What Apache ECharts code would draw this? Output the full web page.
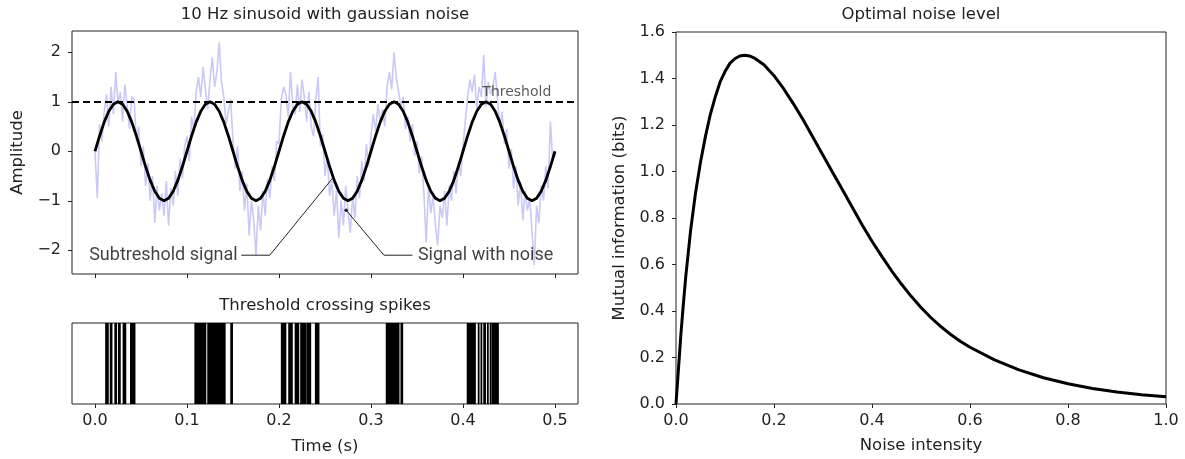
<!DOCTYPE html>
<html>
<head>
<meta charset="utf-8">
<script src="https://cdn.jsdelivr.net/npm/echarts@6/dist/echarts.min.js"></script>
<style>
  html, body { margin: 0; padding: 0; background: #fff; }
  #main { width: 1185px; height: 459px; }
</style>
</head>
<body>
<div id="main"></div>
<script>
// ---- data ----
// clean 10 Hz signal, sampled every 5 ms from 0 to 0.5 s
var sineStep = 0.005;
var sineValues = [
  0, 0.309, 0.588, 0.809, 0.951, 1, 0.951, 0.809, 0.588, 0.309,
  0, -0.309, -0.588, -0.809, -0.951, -1, -0.951, -0.809, -0.588, -0.309,
  0, 0.309, 0.588, 0.809, 0.951, 1, 0.951, 0.809, 0.588, 0.309,
  0, -0.309, -0.588, -0.809, -0.951, -1, -0.951, -0.809, -0.588, -0.309,
  0, 0.309, 0.588, 0.809, 0.951, 1, 0.951, 0.809, 0.588, 0.309,
  0, -0.309, -0.588, -0.809, -0.951, -1, -0.951, -0.809, -0.588, -0.309,
  0, 0.309, 0.588, 0.809, 0.951, 1, 0.951, 0.809, 0.588, 0.309,
  0, -0.309, -0.588, -0.809, -0.951, -1, -0.951, -0.809, -0.588, -0.309,
  0, 0.309, 0.588, 0.809, 0.951, 1, 0.951, 0.809, 0.588, 0.309,
  0, -0.309, -0.588, -0.809, -0.951, -1, -0.951, -0.809, -0.588, -0.309,
  0
];

// noisy signal, sampled every 2.5 ms
var noiseStep = 0.0025;
var noiseValues = [
  0.0, -0.95, 0.55, 0.2, 0.8, 1.15, 0.5, 1.3, 0.75, 1.6,
  0.95, 1.2, 0.6, 1.35, 0.9, 0.45, 1.1, 1.05, 0.2, 0.5,
  -0.3, 0.1, -0.7, -0.25, -1.0, -0.5, -1.45, -0.7, -1.2, -0.85,
  -1.3, -0.6, -1.5, -0.75, -1.1, -0.4, -0.9, -0.15, -0.55, 0.1,
  0.3, -0.2, 0.7, 0.4, 1.2, 1.5, 1.1, 1.7, 1.25, 0.85,
  1.45, 1.9, 1.3, 1.6, 2.2, 1.4, 1.1, 0.55, 0.8, 1.05,
  0.2, -0.35, 0.1, -0.8, -0.4, -1.2, -0.65, -1.7, -1.0, -1.4,
  -2.1, -1.1, -1.6, -0.8, -1.3, -0.55, -0.95, -0.3, -0.6, 0.2,
  0.15, 1.05, 1.3, 1.15, 0.7, 1.6, 0.9, 0.75, 1.35, 0.8,
  1.45, 1.1, 0.6, 1.2, 0.5, 0.3, 1.05, 1.5, 0.1, 0.35,
  -0.5, -0.1, -0.9, -0.6, -1.3, -0.8, -1.75, -1.0, -1.5, -0.7,
  -1.2, -1.65, -0.9, -1.35, -0.5, -0.95, -0.2, -0.6, 0.15, -0.3,
  0.3, 0.75, 0.4, 0.95, 0.6, 0.85, 0.5, 1.3, 1.6, 1.25,
  2.0, 1.5, 1.2, 0.9, 1.1, 0.45, 0.7, 0.2, 0.55, -0.1,
  0.2, -0.45, -0.1, -0.85, -1.85, -0.7, -1.25, -0.9, -1.5, -1.9,
  -1.1, -1.35, -0.8, -1.5, -0.7, -1.0, -0.4, -0.85, -0.2, -0.5,
  0.1, 0.6, 1.1, 1.45, 1.2, 1.55, 0.85, 1.3, 1.1, 1.95,
  0.9, 1.4, 1.15, 1.3, 1.6, 1.05, 0.5, 0.8, 0.15, 0.45,
  -0.35, 0.05, -0.75, -0.3, -1.1, -0.6, -1.4, -0.8, -1.2, -0.95,
  -1.6, -2.3, -1.1, -1.45, -0.7, -1.0, -0.3, -0.75, 0.6, -0.2,
  -0.05
];

var threshold = 1;

// spike times (ms) where the noisy signal crossed the threshold
var spikeMs = [
  12, 13, 14, 17, 18, 22, 23, 26, 27, 31, 32, 33, 39, 40, 41, 42, 43,
  109, 110, 111, 112, 113, 114, 115, 116, 117, 118, 119, 120,
  123, 124, 125, 126, 127, 128, 129, 130, 131, 132, 133, 134, 135, 136, 137, 138, 139, 140, 141,
  148, 149,
  203, 204, 205, 206, 207, 211, 212, 213, 214, 218, 219, 220, 221,
  224, 225, 226, 227, 228, 229, 231, 232, 233, 234, 240, 241, 242, 243,
  317, 318, 319, 320, 321, 322, 323, 324, 325, 326, 327, 328, 329, 330, 333, 334,
  405, 406, 407, 408, 409, 410, 411, 412, 413, 417, 420, 423, 424, 427, 430,
  432, 433, 434, 435, 436, 437, 438
];

// mutual information vs noise intensity
var noiseIntensity = [0, 0.005, 0.01, 0.015, 0.02, 0.03, 0.04, 0.05, 0.06, 0.07, 0.08, 0.09,
  0.1, 0.11, 0.12, 0.13, 0.14, 0.15, 0.16, 0.18, 0.2, 0.22, 0.24, 0.26, 0.28, 0.3, 0.32, 0.34,
  0.36, 0.38, 0.4, 0.42, 0.44, 0.46, 0.48, 0.5, 0.52, 0.54, 0.56, 0.58, 0.6, 0.65, 0.7, 0.75,
  0.8, 0.85, 0.9, 0.95, 1.0];
var mutualInfo = [0, 0.15, 0.30, 0.43, 0.55, 0.75, 0.91, 1.04, 1.15, 1.245, 1.32, 1.385,
  1.43, 1.465, 1.485, 1.497, 1.50, 1.497, 1.488, 1.458, 1.412, 1.355, 1.29, 1.22, 1.145, 1.07,
  0.995, 0.92, 0.845, 0.77, 0.70, 0.635, 0.573, 0.516, 0.463, 0.415, 0.372, 0.334, 0.30, 0.27,
  0.244, 0.19, 0.147, 0.113, 0.087, 0.067, 0.052, 0.04, 0.031];

var timeTicks = [0, 0.1, 0.2, 0.3, 0.4, 0.5];
var ampTicks = [-2, -1, 0, 1, 2];

// annotation anchors (time, amplitude)
var subAnno = [[0.159, -2.1], [0.19, -2.1], [0.258, -0.55]];
var noiseAnno = [[0.345, -2.1], [0.314, -2.1], [0.273, -1.19]];

// ---- chart ----
var chart = echarts.init(document.getElementById('main'), null, { renderer: 'canvas' });

var FONT = 'DejaVu Sans';
var TXT = '#222';
function minus(v) { return v < 0 ? '\u2212' + Math.abs(v) : String(v); }

var sineData = sineValues.map(function (v, i) { return [+(i * sineStep).toFixed(4), v]; });
var noiseData = noiseValues.map(function (v, i) { return [+(i * noiseStep).toFixed(4), v]; });
var spikeData = spikeMs.map(function (ms) { return [ms / 1000, 0, 1]; });
var miData = noiseIntensity.map(function (x, i) { return [x, mutualInfo[i]]; });

function baseAxis(extra, labelMargin) {
  var ax = {
    axisLine: { show: false, onZero: false },
    splitLine: { show: false },
    axisTick: { show: true, inside: false, length: 4, lineStyle: { color: '#222', width: 1 } },
    axisLabel: { color: TXT, fontFamily: FONT, fontSize: 16, margin: labelMargin },
    nameTextStyle: { color: TXT, fontFamily: FONT, fontSize: 16.5 }
  };
  for (var k in extra) {
    if (typeof extra[k] === 'object' && !Array.isArray(extra[k]) && ax[k]) {
      for (var j in extra[k]) ax[k][j] = extra[k][j];
    } else {
      ax[k] = extra[k];
    }
  }
  return ax;
}

var gridStyle = { show: true, borderColor: '#222', borderWidth: 1, backgroundColor: 'transparent' };

// one vertical tick per spike, placed through the axis scales
function renderSpike(params, api) {
  var bottom = api.coord([api.value(0), api.value(1)]);
  var top = api.coord([api.value(0), api.value(2)]);
  return {
    type: 'rect',
    shape: { x: bottom[0] - 0.9, y: top[1], width: 1.8, height: bottom[1] - top[1] },
    style: { fill: '#000' }
  };
}

var option = {
  animation: false,
  backgroundColor: '#fff',
  grid: [
    Object.assign({ left: 72, top: 31, width: 506, height: 243 }, gridStyle),
    Object.assign({ left: 72, top: 323, width: 506, height: 81 }, gridStyle),
    Object.assign({ left: 676, top: 32, width: 490, height: 372 }, gridStyle)
  ],
  xAxis: [
    baseAxis({ type: 'value', gridIndex: 0, min: -0.025, max: 0.525,
      axisTick: { customValues: timeTicks },
      axisLabel: { show: false } }, 9),
    baseAxis({ type: 'value', gridIndex: 1, min: -0.025, max: 0.525,
      axisTick: { customValues: timeTicks },
      axisLabel: { customValues: timeTicks, formatter: function (v) { return v.toFixed(1); } },
      name: 'Time (s)', nameLocation: 'middle', nameGap: 34 }, 9),
    baseAxis({ type: 'value', gridIndex: 2, min: 0, max: 1, interval: 0.2,
      axisLabel: { formatter: function (v) { return v.toFixed(1); } },
      name: 'Noise intensity', nameLocation: 'middle', nameGap: 33 }, 9)
  ],
  yAxis: [
    baseAxis({ type: 'value', gridIndex: 0, min: -2.48, max: 2.43,
      axisTick: { customValues: ampTicks },
      axisLabel: { customValues: ampTicks, formatter: minus },
      name: 'Amplitude', nameLocation: 'middle', nameGap: 46 }, 11),
    baseAxis({ type: 'value', gridIndex: 1, min: 0, max: 1,
      axisTick: { show: false }, axisLabel: { show: false } }, 11),
    baseAxis({ type: 'value', gridIndex: 2, min: 0, max: 1.6, interval: 0.2,
      axisLabel: { formatter: function (v) { return v.toFixed(1); } },
      name: 'Mutual information (bits)', nameLocation: 'middle', nameGap: 48 }, 11)
  ],
  graphic: [
    { type: 'text', x: 325, y: 15, style: { text: '10 Hz sinusoid with gaussian noise', fill: TXT,
      font: '16.5px "DejaVu Sans"', textAlign: 'center', textVerticalAlign: 'middle' } },
    { type: 'text', x: 325, y: 306, style: { text: 'Threshold crossing spikes', fill: TXT,
      font: '16.5px "DejaVu Sans"', textAlign: 'center', textVerticalAlign: 'middle' } },
    { type: 'text', x: 921, y: 15, style: { text: 'Optimal noise level', fill: TXT,
      font: '16.5px "DejaVu Sans"', textAlign: 'center', textVerticalAlign: 'middle' } }
  ],
  series: [
    {
      name: 'Signal with noise', type: 'line', xAxisIndex: 0, yAxisIndex: 0,
      data: noiseData, symbol: 'none', z: 1,
      lineStyle: { color: '#c9c9f6', width: 1.6 }
    },
    {
      name: 'Subtreshold signal', type: 'line', xAxisIndex: 0, yAxisIndex: 0,
      data: sineData, symbol: 'none', z: 3,
      lineStyle: { color: '#000', width: 2.8 },
      markLine: {
        silent: true, symbol: 'none', animation: false,
        label: { show: false },
        lineStyle: { color: '#000', type: [7, 4], width: 2 },
        data: [{ yAxis: threshold }]
      }
    },
    {
      type: 'line', xAxisIndex: 0, yAxisIndex: 0, data: subAnno, symbol: 'none', z: 4,
      lineStyle: { color: '#222', width: 1 }
    },
    {
      type: 'line', xAxisIndex: 0, yAxisIndex: 0, z: 4,
      data: noiseAnno.map(function (p, i) {
        return i === noiseAnno.length - 1 ? { value: p, symbol: 'circle', symbolSize: 3.5 } : { value: p, symbolSize: 0 };
      }),
      symbol: 'circle', symbolSize: 0, showSymbol: true,
      itemStyle: { color: '#222' },
      lineStyle: { color: '#222', width: 1 }
    },
    {
      type: 'scatter', xAxisIndex: 0, yAxisIndex: 0, symbolSize: 0, z: 5,
      label: { show: true, formatter: function (p) { return p.name; }, color: '#111' },
      data: [
        { name: 'Subtreshold signal', value: [0.155, -2.1],
          label: { position: 'left', distance: 0, fontFamily: 'Roboto', fontSize: 18 } },
        { name: 'Signal with noise', value: [0.351, -2.1],
          label: { position: 'right', distance: 0, fontFamily: 'Roboto', fontSize: 18 } },
        { name: 'Threshold', value: [0.496, 1.2],
          label: { position: 'left', distance: 0, fontFamily: FONT, fontSize: 14, color: '#333' } }
      ]
    },
    {
      name: 'Spikes', type: 'custom', xAxisIndex: 1, yAxisIndex: 1,
      data: spikeData, renderItem: renderSpike, encode: { x: 0, y: [1, 2] }, z: 2
    },
    {
      name: 'Mutual information', type: 'line', xAxisIndex: 2, yAxisIndex: 2,
      data: miData, symbol: 'none', smooth: false,
      lineStyle: { color: '#000', width: 3, join: 'round' }
    }
  ]
};

chart.setOption(option);
</script>
</body>
</html>
